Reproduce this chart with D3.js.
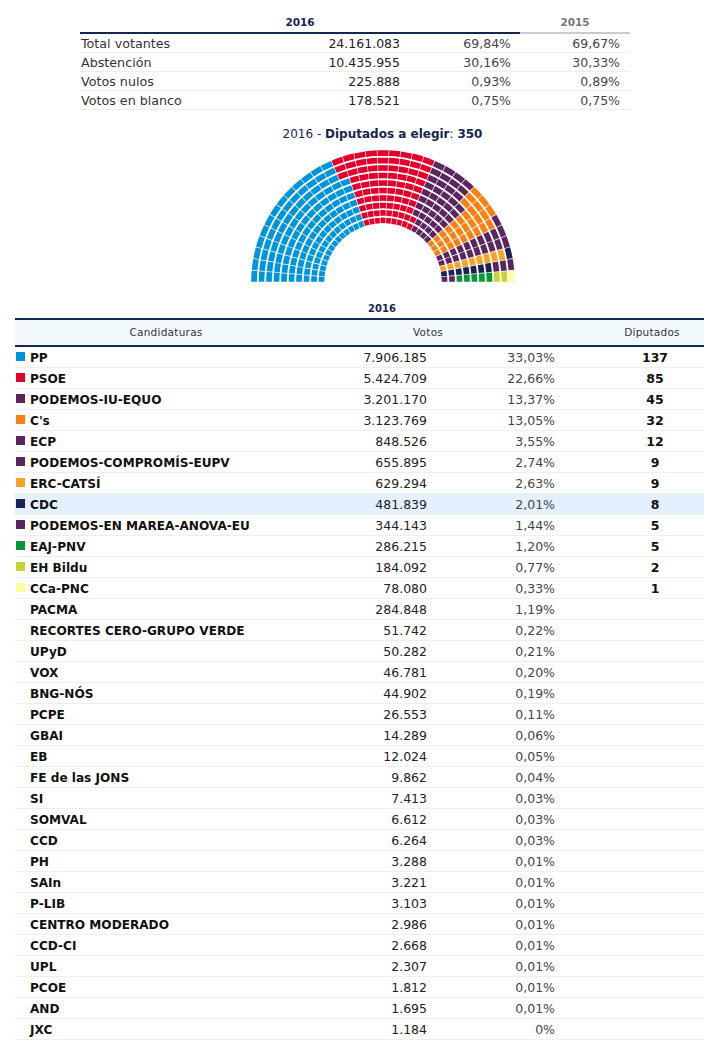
<!DOCTYPE html>
<html><head><meta charset="utf-8">
<script src="https://cdnjs.cloudflare.com/ajax/libs/d3/7.8.5/d3.min.js"></script>
<style>
html,body{margin:0;padding:0;background:#fff}
svg{display:block}
text{font-family:"DejaVu Sans",Verdana,sans-serif}
</style></head><body>
<svg id="c" width="704" height="1050"></svg>
<script>
const summaryLabels=["Total votantes","Abstención","Votos nulos","Votos en blanco"];
const summaryVotes=["24.161.083","10.435.955","225.888","178.521"];
const summaryPct16=["69,84%","30,16%","0,93%","0,75%"];
const summaryPct15=["69,67%","30,33%","0,89%","0,75%"];
const parties=["PP","PSOE","PODEMOS-IU-EQUO","C's","ECP","PODEMOS-COMPROMÍS-EUPV","ERC-CATSÍ","CDC","PODEMOS-EN MAREA-ANOVA-EU","EAJ-PNV","EH Bildu","CCa-PNC","PACMA","RECORTES CERO-GRUPO VERDE","UPyD","VOX","BNG-NÓS","PCPE","GBAI","EB","FE de las JONS","SI","SOMVAL","CCD","PH","SAIn","P-LIB","CENTRO MODERADO","CCD-CI","UPL","PCOE","AND","JXC"];
const votes=["7.906.185","5.424.709","3.201.170","3.123.769","848.526","655.895","629.294","481.839","344.143","286.215","184.092","78.080","284.848","51.742","50.282","46.781","44.902","26.553","14.289","12.024","9.862","7.413","6.612","6.264","3.288","3.221","3.103","2.986","2.668","2.307","1.812","1.695","1.184"];
const pcts=["33,03%","22,66%","13,37%","13,05%","3,55%","2,74%","2,63%","2,01%","1,44%","1,20%","0,77%","0,33%","1,19%","0,22%","0,21%","0,20%","0,19%","0,11%","0,06%","0,05%","0,04%","0,03%","0,03%","0,03%","0,01%","0,01%","0,01%","0,01%","0,01%","0,01%","0,01%","0,01%","0%"];
const seats=[137,85,45,32,12,9,9,8,5,5,2,1];
const colors=["#0095da","#e4002b","#5b2560","#ff7f0e","#5b2560","#5b2560","#ffa126","#1b2255","#5b2560","#009933","#c8d232","#ffff99"];
const rowCount=10, columnCount=35;

const NAVY="#16264f", TXT="#222";
const svg=d3.select("#c");

/* top table */
const yTop=d3.scaleBand().domain(summaryLabels).range([34,110]);
const head=svg.append("g");
head.append("rect").attr("x",80).attr("y",32).attr("width",440).attr("height",2).attr("fill",NAVY);
head.append("rect").attr("x",520).attr("y",32).attr("width",110).attr("height",2).attr("fill","#ccc");
head.append("text").attr("x",300).attr("y",26).attr("text-anchor","middle").attr("font-size",10.5).attr("font-weight",700).attr("fill",NAVY).text("2016");
head.append("text").attr("x",575).attr("y",26).attr("text-anchor","middle").attr("font-size",10.5).attr("font-weight",700).attr("fill","#777").text("2015");
summaryLabels.forEach((l,i)=>{
  const top=yTop(l), b=top+14;
  head.append("line").attr("x1",80).attr("x2",630).attr("y1",top+yTop.bandwidth()-.5).attr("y2",top+yTop.bandwidth()-.5).attr("stroke","#eee");
  head.append("text").attr("x",81).attr("y",b).attr("font-size",12.7).attr("fill","#333").text(l);
  [[summaryVotes,400,TXT],[summaryPct16,511,"#444"],[summaryPct15,620,"#444"]].forEach(([a,x,c])=>
    head.append("text").attr("x",x).attr("y",b).attr("text-anchor","end").attr("font-size",12.5).attr("fill",c).text(a[i]));
});

/* hemicycle: 35 radial columns of 10 seats, filled inner to outer */
svg.append("text").attr("x",382.5).attr("y",138).attr("text-anchor","middle").attr("font-size",12).attr("fill",NAVY)
  .html('2016 - <tspan font-weight="700">Diputados a elegir</tspan>: <tspan font-weight="700">350</tspan>');
const cx=383, cy=282;
const rScale=d3.scaleBand().domain(d3.range(rowCount)).range([58.7,131.8]).paddingInner(0.24);
const aScale=d3.scaleBand().domain(d3.range(columnCount)).range([-Math.PI/2,Math.PI/2]);
const seatList=d3.range(columnCount).flatMap(col=>d3.range(rowCount).map(row=>({col,row})));
const seatColors=seats.flatMap((n,i)=>d3.range(n).map(()=>colors[i]));
const arc=d3.arc();
svg.append("g").attr("transform",`translate(${cx},${cy})`).selectAll("path").data(seatList).join("path")
  .attr("d",d=>{
    const ri=rScale(d.row), ro=ri+rScale.bandwidth();
    const gap=0.35/ro;
    return arc({innerRadius:ri,outerRadius:ro,startAngle:aScale(d.col)+gap,endAngle:aScale(d.col)+aScale.step()-gap});
  })
  .attr("fill",(d,i)=>seatColors[i]);

/* main table */
const T=svg.append("g");
T.append("text").attr("x",382).attr("y",312).attr("text-anchor","middle").attr("font-size",10).attr("font-weight",700).attr("fill",NAVY).text("2016");
T.append("rect").attr("x",15).attr("y",320).attr("width",689).attr("height",25).attr("fill","#f2f9fd");
T.append("rect").attr("x",15).attr("y",318).attr("width",689).attr("height",2).attr("fill",NAVY);
T.append("rect").attr("x",15).attr("y",345).attr("width",689).attr("height",2).attr("fill",NAVY);
[["Candidaturas",166],["Votos",428],["Diputados",652]].forEach(([t,x])=>
  T.append("text").attr("x",x).attr("y",336).attr("text-anchor","middle").attr("font-size",10.5).attr("letter-spacing",.25).attr("fill","#334").text(t));
const y=d3.scaleBand().domain(parties).range([347,347+21*parties.length]);
const rows=T.selectAll("g.r").data(parties).join("g").attr("class","r").attr("transform",d=>`translate(0,${y(d)})`);
rows.filter(d=>d==="CDC").append("rect").attr("x",15).attr("width",689).attr("height",21).attr("fill","#e3f0fd");
rows.append("line").attr("x1",15).attr("x2",704).attr("y1",20.5).attr("y2",20.5).attr("stroke","#eee");
rows.filter((d,i)=>i<seats.length).append("rect").attr("x",16).attr("y",5).attr("width",9).attr("height",9).attr("fill",(d,i)=>colors[i]);
rows.append("text").attr("x",30).attr("y",15).attr("font-size",12.1).attr("font-weight",700).attr("fill","#111").text(d=>d);
rows.append("text").attr("x",427).attr("y",15).attr("text-anchor","end").attr("font-size",12.5).attr("fill",TXT).text((d,i)=>votes[i]);
rows.append("text").attr("x",555).attr("y",15).attr("text-anchor","end").attr("font-size",12.5).attr("fill","#444").text((d,i)=>pcts[i]);
rows.filter((d,i)=>i<seats.length).append("text").attr("x",655).attr("y",15).attr("text-anchor","middle").attr("font-size",12.5).attr("font-weight",700).attr("fill","#111").text((d,i)=>seats[i]);
</script>
</body></html>
